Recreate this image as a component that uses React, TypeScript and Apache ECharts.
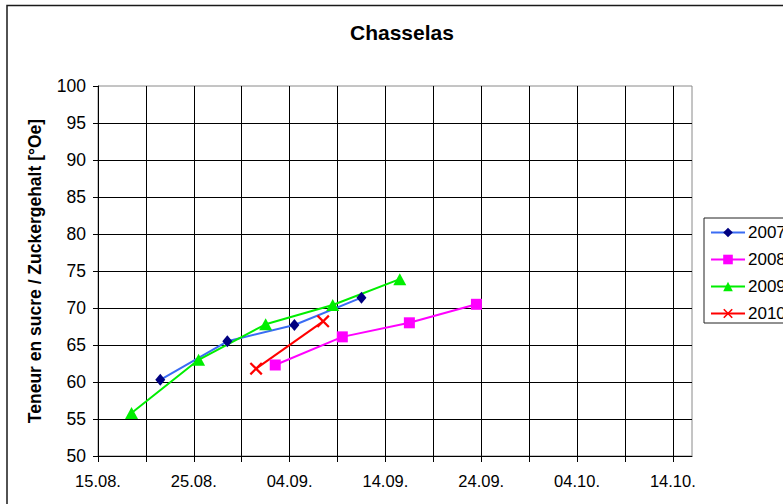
import React, { useEffect, useRef } from "react";
import * as echarts from "echarts";

const TITLE = "Chasselas";
const Y_NAME = "Teneur en sucre / Zuckergehalt [°Oe]";

// Dates (dd.mm.) and sugar content [°Oe]
const dates2007 = ["21.08.", "28.08.", "04.09.", "11.09."];
const values2007 = [60.3, 65.5, 67.7, 71.4];
const dates2008 = ["02.09.", "09.09.", "16.09.", "23.09."];
const values2008 = [62.3, 66.1, 68.0, 70.5];
const dates2009 = ["18.08.", "25.08.", "01.09.", "08.09.", "15.09."];
const values2009 = [55.8, 63.0, 67.8, 70.4, 73.9];
const dates2010 = ["31.08.", "07.09."];
const values2010 = [61.8, 68.2];

const seriesNames = ["2007", "2008", "2009", "2010"];

// axis: day offsets from 15.08.
const X_MIN = 0;
const X_MAX = 62; // 15.08. .. 15.10. (+1 day, dates between tick marks)
const X_INTERVAL = 5;
const Y_MIN = 50;
const Y_MAX = 100;
const Y_INTERVAL = 5;

const FONT = "'Liberation Sans', Arial, sans-serif";

function dayOffset(s: string): number {
  const [d, m] = s.split(".").map((t) => parseInt(t, 10));
  if (m === 8) return d - 15;
  if (m === 9) return 16 + d;
  return 46 + d;
}

function offsetLabel(v: number): string {
  let d: number, m: string;
  if (v <= 16) { d = 15 + v; m = "08"; }
  else if (v <= 46) { d = v - 16; m = "09"; }
  else { d = v - 46; m = "10"; }
  return (d < 10 ? "0" + d : "" + d) + "." + m + ".";
}

// Excel date axis places each date at the middle of its day
function pts(dates: string[], vals: number[]): number[][] {
  return dates.map((s, i) => [dayOffset(s) + 0.5, vals[i]]);
}

const CROSS = "path://M0,1.2L1.2,0L10,8.8L8.8,10Z M8.8,0L10,1.2L1.2,10L0,8.8Z";

export default function App() {
  const ref = useRef<HTMLDivElement>(null);
  useEffect(() => {
    if (!ref.current) return;
    const chart = echarts.init(ref.current, undefined, { renderer: "svg" });
    chart.setOption({
      animation: false,
      backgroundColor: "#ffffff",
      textStyle: { fontFamily: FONT },
      title: {
        text: TITLE,
        left: 345,
        top: 17,
        textStyle: { fontFamily: FONT, fontSize: 21, fontWeight: "bold", color: "#000" },
      },
      graphic: [
        {
          type: "rect",
          shape: { x: 7, y: 5.5, width: 900, height: 700 },
          style: { fill: "none", stroke: "#1a1a1a", lineWidth: 1.5 },
          silent: true,
          z: 100,
        },
      ],
      legend: {
        orient: "vertical",
        left: 704,
        top: 218,
        padding: [6, 6, 1, 6],
        itemGap: 10,
        itemWidth: 34,
        itemHeight: 12,
        borderColor: "#222",
        borderWidth: 1,
        backgroundColor: "#fff",
        data: seriesNames,
        textStyle: { fontFamily: FONT, fontSize: 17, color: "#000", padding: [0, 0, 0, -2] },
      },
      grid: {
        left: 98,
        right: 91,
        top: 86,
        bottom: 48,
        show: true,
        borderColor: "#8a8a8a",
        borderWidth: 1,
        backgroundColor: "#fff",
      },
      xAxis: {
        type: "value",
        min: X_MIN,
        max: X_MAX,
        interval: X_INTERVAL,
        axisLine: { show: true, onZero: false, lineStyle: { color: "#000", width: 1 } },
        axisTick: { show: true, length: 6, lineStyle: { color: "#000" } },
        splitLine: { show: true, showMinLine: false, showMaxLine: false, lineStyle: { color: "#000", width: 1 } },
        axisLabel: {
          margin: 16,
          fontFamily: FONT,
          fontSize: 16.5,
          color: "#000",
          showMaxLabel: false,
          formatter: (v: number) => (v % 10 === 0 && v <= 60 ? offsetLabel(v) : ""),
        },
      },
      yAxis: {
        type: "value",
        min: Y_MIN,
        max: Y_MAX,
        interval: Y_INTERVAL,
        name: Y_NAME,
        nameLocation: "middle",
        nameRotate: 90,
        nameGap: 54,
        nameTextStyle: { fontFamily: FONT, fontSize: 17.5, fontWeight: "bold", color: "#000" },
        axisLine: { show: true, lineStyle: { color: "#000", width: 1 } },
        axisTick: { show: true, length: 5, lineStyle: { color: "#000" } },
        splitLine: { show: true, showMinLine: false, showMaxLine: false, lineStyle: { color: "#000", width: 1 } },
        axisLabel: { margin: 12, fontFamily: FONT, fontSize: 17.5, color: "#000" },
      },
      series: [
        {
          name: seriesNames[0],
          type: "line",
          data: pts(dates2007, values2007),
          symbol: "diamond",
          symbolSize: [10, 12],
          lineStyle: { color: "#3a6cf4", width: 2 },
          itemStyle: { color: "#000080" },
        },
        {
          name: seriesNames[1],
          type: "line",
          data: pts(dates2008, values2008),
          symbol: "rect",
          symbolSize: 11,
          lineStyle: { color: "#ff00ff", width: 2 },
          itemStyle: { color: "#ff00ff" },
        },
        {
          name: seriesNames[2],
          type: "line",
          data: pts(dates2009, values2009),
          symbol: "triangle",
          symbolSize: [13, 12],
          lineStyle: { color: "#00ee00", width: 2 },
          itemStyle: { color: "#00ee00" },
        },
        {
          name: seriesNames[3],
          type: "line",
          data: pts(dates2010, values2010),
          symbol: CROSS,
          symbolSize: 13,
          lineStyle: { color: "#ff0000", width: 2 },
          itemStyle: { color: "#ff0000" },
        },
      ],
    });
    return () => chart.dispose();
  }, []);
  return (
    <div
      ref={ref}
      style={{ position: "fixed", left: 0, top: 0, width: 783, height: 504 }}
    />
  );
}
